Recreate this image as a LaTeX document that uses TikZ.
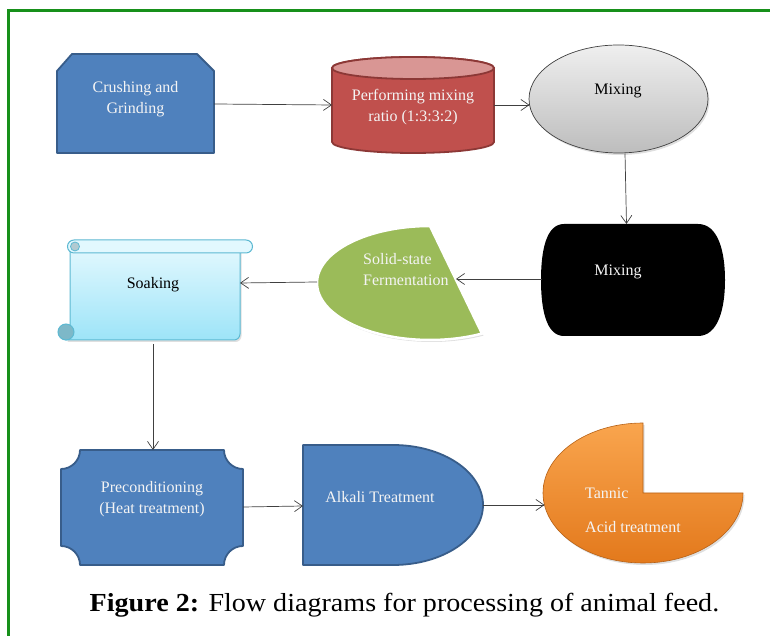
\documentclass[tikz,border=0pt]{standalone}
\usepackage{fontspec}
\setmainfont{Liberation Serif}
\usetikzlibrary{arrows.meta,shapes.geometric,shadows,calc}
\definecolor{bluefill}{HTML}{4F81BD}
\definecolor{blueline}{HTML}{385D8A}
\definecolor{redfill}{HTML}{C0504D}
\definecolor{redtop}{HTML}{D99694}
\definecolor{redline}{HTML}{8C3836}
\definecolor{greenfill}{HTML}{9BBB59}
\definecolor{framegreen}{HTML}{17901A}
\definecolor{scrolltop}{HTML}{E2F8FE}
\definecolor{scrollbot}{HTML}{9DE4F8}
\definecolor{scrollline}{HTML}{5DB9D2}
\definecolor{curlcol}{HTML}{7DB8C8}
\definecolor{orangetop}{HTML}{F9A54E}
\definecolor{orangebot}{HTML}{E3791C}
\definecolor{arrowgray}{HTML}{404040}
\definecolor{graytop}{HTML}{EFEFEF}
\definecolor{graybot}{HTML}{BDBDBD}
\definecolor{whitetext}{HTML}{F4F4F4}
\begin{document}
\begin{tikzpicture}[x=1pt,y=1pt,
  lbl/.style={font=\fontsize{16}{21}\selectfont, align=center, inner sep=0pt},
  wlbl/.style={lbl, text=whitetext},
  conn/.style={draw=arrowgray, line width=0.7pt, -{Straight Barb[length=8pt,width=11pt]}},
  bluebox/.style={fill=bluefill, draw=blueline, line width=1.8pt, line join=round},
  soft/.style={drop shadow={opacity=0.25,shadow xshift=1.5pt,shadow yshift=-2pt}}
]
\useasboundingbox (0,0) rectangle (770,636);
\draw[framegreen, line width=3pt] (8,-2) -- (8,625) -- (772,625);

% Crushing and Grinding
\path[bluebox] (57,565) -- (72,582) -- (197,582) -- (214,565) -- (214,483) -- (57,483) -- cycle;
\node[wlbl] (crush) at (135.5,536.5) {Crushing and\\Grinding};
\coordinate (crushE) at (214,532);

% Cylinder
\path[fill=redfill, draw=redline, line width=1.8pt] (332,568) -- (332,494) arc[start angle=180,end angle=360,x radius=81,y radius=11] -- (494,568) arc[start angle=0,end angle=180,x radius=81,y radius=11] -- cycle;
\path[fill=redtop, draw=redline, line width=1.8pt] (413,568) ellipse[x radius=81,y radius=11];
\node[wlbl] (ratio) at (413,528.5) {Performing mixing\\ratio (1:3:3:2)};
\coordinate (cylW) at (332,531);
\coordinate (cylE) at (494,531);

% Mixing ellipse
\node[ellipse, draw=arrowgray, line width=0.7pt, top color=graytop, bottom color=graybot, minimum width=179pt, minimum height=108pt, inner sep=0pt, soft] (mix1) at (618.5,537) {};
\node[lbl] (mixtxt) at (618,545) {Mixing};
\coordinate (mix1W) at (529.5,531);
\coordinate (mix1S) at ($(mix1.south)+(6.5,0)$);

% Black Mixing
\path[fill=black] (564,412) -- (698,412) .. controls (718,412) and (725,385) .. (725,356) .. controls (725,327) and (718,300) .. (698,300) -- (564,300) .. controls (546,300) and (541,327) .. (541,356) .. controls (541,385) and (546,412) .. (564,412) -- cycle;
\node[wlbl] (mix2) at (618,364) {Mixing};
\coordinate (blkN) at (626.5,412);
\coordinate (blkW) at (542,357);

% Solid-state Fermentation
\path[fill=greenfill, draw=white, line width=2.5pt, soft] (430,410) arc[start angle=90,end angle=297.4,x radius=113,y radius=57] -- cycle;
\node[wlbl, align=left, anchor=west] (ssf) at (363,366.5) {Solid-state\\Fermentation};
\coordinate (grnE) at (456,357);
\coordinate (grnW) at (317,354);

% Soaking scroll
\path[top color=scrolltop, bottom color=scrollbot, draw=scrollline, line width=1pt, soft] (70,389) -- (70,304) -- (66,296) -- (234,296) arc[start angle=270,end angle=360,radius=6] -- (240,389) -- cycle;
\path[fill=scrolltop, draw=scrollline, line width=1pt] (74,396) -- (246,396) arc[start angle=90,end angle=-90,radius=6.5] -- (74,383) arc[start angle=270,end angle=90,radius=6.5] -- cycle;
\path[fill=curlcol!70!gray!60, draw=scrollline, line width=0.8pt] (75,389.5) circle[radius=4.5];
\path[fill=curlcol, draw=scrollline, line width=1pt] (66,304) circle[radius=8];
\node[lbl] (soak) at (153,351) {Soaking};
\coordinate (soakE) at (240,353);
\coordinate (soakS) at (153,292);

% Preconditioning plaque
\path[bluebox] (80,186) -- (224,186) arc[start angle=180,end angle=270,radius=19] -- (243,90) arc[start angle=90,end angle=180,radius=19] -- (80,71) arc[start angle=0,end angle=90,radius=19] -- (61,167) arc[start angle=270,end angle=360,radius=19] -- cycle;
\node[wlbl] (pre) at (152,137) {Preconditioning\\(Heat treatment)};
\coordinate (preN) at (153,186);
\coordinate (preE) at (243,129);

% Alkali Treatment
\path[bluebox] (303,191) -- (393,191) arc[start angle=90,end angle=-90,x radius=90,y radius=60] -- (303,71) -- cycle;
\node[wlbl] (alk) at (380,139) {Alkali Treatment};
\coordinate (alkW) at (303,130);
\coordinate (alkE) at (483,131);

% Tannic acid treatment
\path[top color=orangetop, bottom color=orangebot, draw=orangebot!80!black, line width=0.6pt, soft] (643,143) -- (643,213) arc[start angle=90,end angle=360,x radius=100,y radius=70] -- cycle;
\node[wlbl, anchor=west] (tan1) at (585,143) {Tannic};
\node[wlbl, anchor=west] (tan2) at (585,109) {Acid treatment};
\coordinate (tanW) at (544.5,131);

% Connectors
\draw[conn] (crushE) -- (cylW);
\draw[conn] (cylE) -- (mix1W);
\draw[conn] (mix1S) -- (blkN);
\draw[conn] (blkW) -- (grnE);
\draw[conn] (grnW) -- (soakE);
\draw[conn] (soakS) -- (preN);
\draw[conn] (preE) -- (alkW);
\draw[conn] (alkE) -- (tanW);

% Caption
\node[anchor=base, inner sep=0pt] (cap) at (404.5,24) {\scalebox{1.08}[1]{\fontsize{26}{30}\selectfont\textbf{Figure 2:} Flow diagrams for processing of animal feed.}};
\end{tikzpicture}
\end{document}
